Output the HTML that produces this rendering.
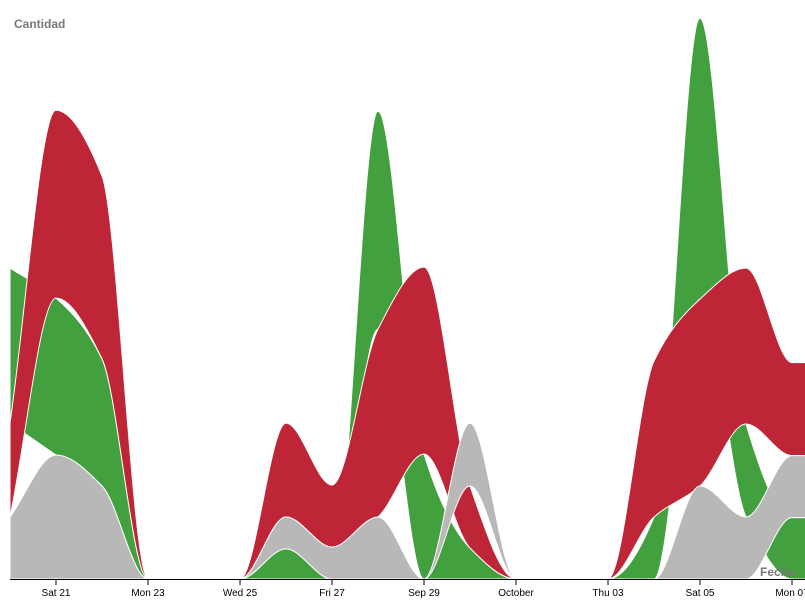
<!DOCTYPE html>
<html><head><meta charset="utf-8"><style>
body{margin:0;background:#fff;font-family:"Liberation Sans",sans-serif}
svg{display:block}
text{font-family:"Liberation Sans",sans-serif}
</style></head><body>
<svg id="c" width="805" height="600">
<text x="14" y="28" font-size="12" font-weight="bold" fill="#777">Cantidad</text>
</svg>
<script>
const dates=["Sep 20","Sep 21","Sep 22","Sep 23","Sep 24","Sep 25","Sep 26","Sep 27","Sep 28","Sep 29","Sep 30","Oct 1","Oct 2","Oct 3","Oct 4","Oct 5","Oct 6","Oct 7","Oct 8"];
const gray =[2.0,4.0,3.0,0,0,0,1.03,1.03,2.0,0,2.03,0,0,0,0,3.0,2.0,2.0,2.0];
const green=[5.0,5.06,4.1,0,0,0,0.97,0,7.03,4.03,1.0,0,0,0,2.0,9.06,3.0,1.98,1.98];
const red  =[3.03,6.06,5.9,0,0,0,3.03,2.0,6.06,6.03,2.0,0,0,0,5.03,6.03,5.03,3.0,3.0];
const tickLabels=["Sat 21","Mon 23","Wed 25","Fri 27","Sep 29","October","Thu 03","Sat 05","Mon 07"];
const tickIdx=[1,3,5,7,9,11,13,15,17];
const NS="http://www.w3.org/2000/svg";
const svg=document.getElementById('c');
const X=i=>10+i*46, base=579, Y=v=>base-v*31;
const series=[{n:'gray',d:gray,c:'#b8b8b8'},{n:'green',d:green,c:'#43a03e'},{n:'red',d:red,c:'#be2537'}];
const lo=series.map(()=>[]),hi=series.map(()=>[]);
for(let i=0;i<dates.length;i++){
  const ord=[0,1,2].sort((a,b)=>series[a].d[i]-series[b].d[i]);
  let acc=0;ord.forEach(k=>{lo[k][i]=acc;acc+=series[k].d[i];hi[k][i]=acc;});
}
function mono(xs,ys){
  const n=xs.length,m=[],d=[];
  for(let i=0;i<n-1;i++)d.push((ys[i+1]-ys[i])/(xs[i+1]-xs[i]));
  for(let i=0;i<n;i++){
    if(i==0)m.push(d[0]);else if(i==n-1)m.push(d[n-2]);
    else if(d[i-1]*d[i]<=0)m.push(0);
    else m.push(2/(1/d[i-1]+1/d[i]));
  }
  let s='';
  for(let i=0;i<n-1;i++){
    const h=(xs[i+1]-xs[i])/3;
    s+=` C${xs[i]+h},${ys[i]+m[i]*h} ${xs[i+1]-h},${ys[i+1]-m[i+1]*h} ${xs[i+1]},${ys[i+1]}`;
  }
  return s;
}
const xs=dates.map((_,i)=>X(i));
const g=document.createElementNS(NS,'g');


svg.appendChild(g);
[1,2,0].forEach(k=>{
  const top=hi[k].map(Y),bot=lo[k].map(Y);
  const rx=xs.slice().reverse(),rb=bot.slice().reverse();
  const d='M'+xs[0]+','+top[0]+mono(xs,top)+' L'+rx[0]+','+rb[0]+mono(rx,rb)+'Z';
  const p=document.createElementNS(NS,'path');
  p.setAttribute('d',d);p.setAttribute('fill',series[k].c);p.setAttribute('stroke','#fff');p.setAttribute('stroke-width','1');
  
  
  g.appendChild(p);
});
const ax=document.createElementNS(NS,'line');
ax.setAttribute('x1',10);ax.setAttribute('x2',805);ax.setAttribute('y1',base+0.5);ax.setAttribute('y2',base+0.5);ax.setAttribute('stroke','#000');


svg.appendChild(ax);
tickIdx.forEach((ix,j)=>{
  const x=X(ix);
  const t=document.createElementNS(NS,'line');
  t.setAttribute('x1',x);t.setAttribute('x2',x);t.setAttribute('y1',base);t.setAttribute('y2',base+6);t.setAttribute('stroke','#000');
  
  
  svg.appendChild(t);
  const l=document.createElementNS(NS,'text');
  l.setAttribute('x',x);l.setAttribute('y',base+17);l.setAttribute('text-anchor','middle');l.setAttribute('font-size','10');l.setAttribute('fill','#000');
  l.textContent=tickLabels[j];
  
  
  svg.appendChild(l);
});
const ft=document.createElementNS(NS,'text');
ft.setAttribute('x',760);ft.setAttribute('y',576);ft.setAttribute('font-size','12');ft.setAttribute('font-weight','bold');ft.setAttribute('fill','#777');
ft.textContent='Fecha';


svg.appendChild(ft);
</script>
</body></html>
